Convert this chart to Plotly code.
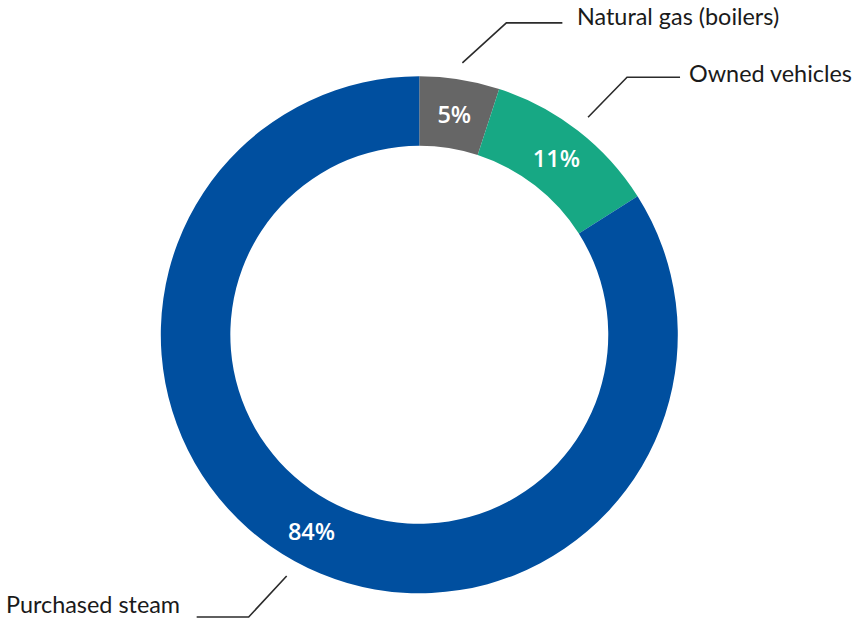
import math
import plotly.graph_objects as go

# Scope 1 emission sources, share of total (%)
labels = ["Natural gas (boilers)", "Owned vehicles", "Purchased steam"]
values = [5, 11, 84]
colors = ["#666666", "#17a884", "#004f9f"]

W, H = 855, 622
CX, CY, R = 419.3, 334.8, 258.5   # ring centre and outer radius, px
HOLE = 0.731

LABEL_FONT = "Lato"
LABEL_SIZE = 23.4


def px(x):
    return x / W


def py(y):
    return 1 - y / H


fig = go.Figure(go.Pie(
    labels=labels,
    values=values,
    sort=False,
    direction="clockwise",
    rotation=0,
    hole=HOLE,
    marker=dict(colors=colors, line=dict(width=0)),
    texttemplate="%{value}%",
    textposition="inside",
    insidetextorientation="horizontal",
    textfont=dict(family="Open Sans", size=23.5, color="white", weight=600),
    domain=dict(x=[px(CX - R), px(CX + R)], y=[py(CY + R), py(CY - R)]),
    showlegend=False,
    hoverinfo="skip",
))

# leader lines: start just outside the ring at each slice's mid-angle,
# run diagonally outward, then bend horizontally toward the label
total = sum(values)
shapes, annotations = [], []
cum = 0.0
# (diagonal dx, dy, horizontal run, text gap, text vertical offset)
leader = {
    "Natural gas (boilers)": (44, -40, 56, 13, -7),
    "Owned vehicles": (39, -40, 53, 7, -4),
    "Purchased steam": (-38, 41, -52, -15, -13),
}
for lab, v in zip(labels, values):
    mid = (cum + v / 2) / total * 2 * math.pi
    cum += v
    x0 = CX + 1.065 * R * math.sin(mid)
    y0 = CY - 1.065 * R * math.cos(mid)
    dx, dy, run, gap, toff = leader[lab]
    x1, y1 = x0 + dx, y0 + dy
    x2 = x1 + run
    path = f"M {px(x0)},{py(y0)} L {px(x1)},{py(y1)} L {px(x2)},{py(y1)}"
    shapes.append(dict(type="path", xref="paper", yref="paper", path=path,
                       line=dict(color="#2b2b2b", width=1.6)))
    annotations.append(dict(
        x=px(x2 + gap), y=py(y1 + toff), xref="paper", yref="paper",
        text=lab, showarrow=False,
        xanchor="left" if run > 0 else "right", yanchor="middle",
        font=dict(family=LABEL_FONT, size=LABEL_SIZE, color="#1a1a1a"),
    ))

fig.update_layout(
    width=W, height=H,
    margin=dict(l=0, r=0, t=0, b=0),
    paper_bgcolor="white", plot_bgcolor="white",
    shapes=shapes, annotations=annotations,
)

fig.write_html("out.html")
